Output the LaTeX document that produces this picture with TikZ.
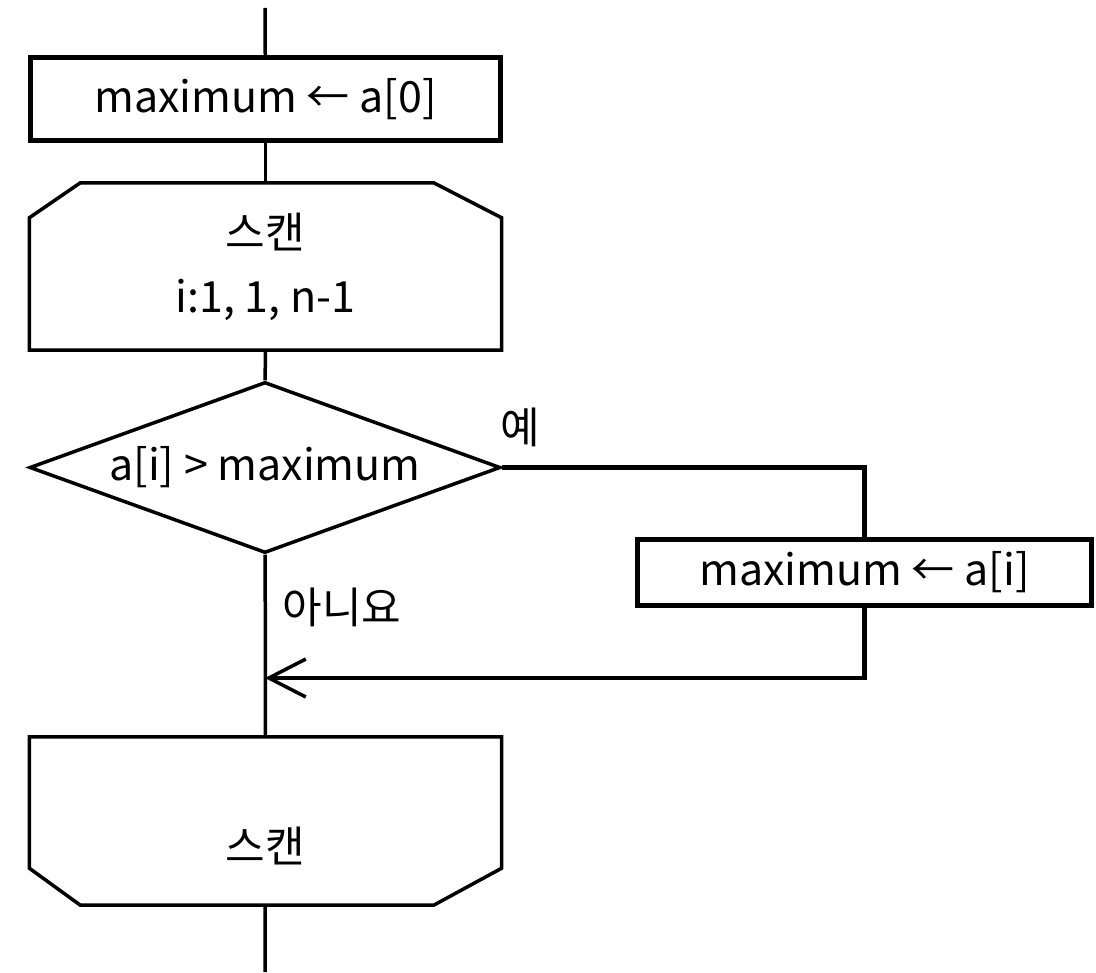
\documentclass[tikz,border=0pt]{standalone}
\usepackage{fontspec}
\setmainfont{Noto Sans CJK KR}
\usetikzlibrary{shapes.geometric,arrows.meta}
\tikzstyle{process} = [rectangle, minimum width=470pt, minimum height=83pt, inner sep=0pt, text centered, draw=black, line width=5pt]
\tikzstyle{update} = [process, minimum width=454pt, minimum height=66pt]
\tikzstyle{loophead} = [rectangle, minimum width=472pt, minimum height=167pt, inner sep=0pt, align=center]
\tikzstyle{decision} = [diamond, aspect=2.75, minimum width=471pt, minimum height=171pt, inner sep=0pt, draw=black, line width=3.5pt]
\tikzstyle{line} = [line width=3.5pt]
\tikzstyle{arrow} = [line width=4.5pt, -{Straight Barb[length=37pt,width=38pt,line width=3.5pt]}]

\begin{document}
\begin{tikzpicture}[x=1pt, y=-1pt, font=\fontsize{43pt}{64pt}\selectfont]
\useasboundingbox (0,0) rectangle (1096,973);
\coordinate (in) at (265,8);
\coordinate (out) at (265,972);
\coordinate (join) at (265,678);
\node (init) [process] at (265.5,99) {maximum ← a[0]};
\node (scan) [loophead] at (265.5,266.5) {스캔\\i:1, 1, n-1};
\node (cond) [decision] at (265,467.5) {a[i] > maximum};
\node (upd) [update] at (864.5,572.5) {maximum ← a[i]};
\node (scanend) [loophead, minimum height=168pt] at (265.5,821) {};
\node (scanendtxt) at (265.5,846) {스캔};
\node (yes) at (520,427) {예};
\node (no) at (342,607) {아니요};
% loop limit shapes
\draw [line] ([xshift=51pt]scan.north west) -- ([xshift=-68pt]scan.north east) -- ([yshift=-35pt]scan.north east) -- (scan.south east) -- (scan.south west) -- ([yshift=-35pt]scan.north west) -- cycle;
\draw [line] (scanend.north west) -- (scanend.north east) -- ([yshift=37pt]scanend.south east) -- ([xshift=-68pt]scanend.south east) -- ([xshift=51pt]scanend.south west) -- ([yshift=37pt]scanend.south west) -- cycle;
% connectors
\draw [line] (in) -- (init);
\draw [line] (init) -- (scan);
\draw [line] (scan) -- (cond);
\draw [line, line width=5pt] (cond.east) -| (upd.north);
\draw [arrow] (upd.south) |- (join);
\draw [line] (cond) -- (scanend.north);
\draw [line] (scanend) -- (out);
\end{tikzpicture}
\end{document}
